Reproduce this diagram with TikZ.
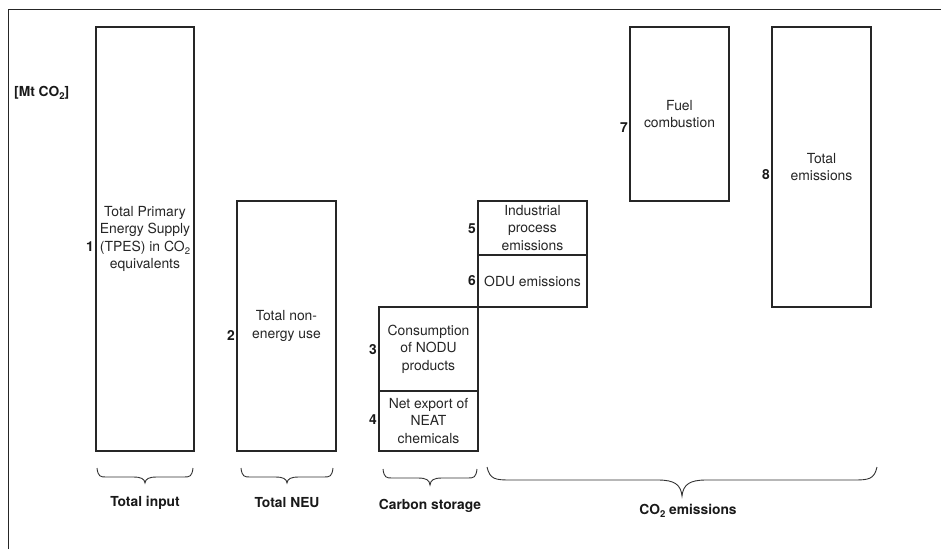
\documentclass[tikz,border=0pt]{standalone}
\usepackage{fontspec}
\setmainfont{TeX Gyre Heros}
\newcommand\subtwo{\raisebox{-0.4ex}{\fontsize{9.5}{10}\selectfont 2}}
\newcommand\curlybrace[7]{%
  \draw[braceline] (#1,#3) .. controls ({#1+0.12*#6},{#4-0.5}) and ({#1+0.35*#6},#4) .. ({#1+#6},#4)
    -- ({(#1+#2)/2-#7},#4) .. controls ({(#1+#2)/2-0.3*#7},#4) and ({(#1+#2)/2-0.05*#7},{#4+0.3*(#5-#4)}) .. ({(#1+#2)/2},#5)
    .. controls ({(#1+#2)/2+0.05*#7},{#4+0.3*(#5-#4)}) and ({(#1+#2)/2+0.3*#7},#4) .. ({(#1+#2)/2+#7},#4)
    -- ({#2-#6},#4) .. controls ({#2-0.35*#6},#4) and ({#2-0.12*#6},{#4-0.5}) .. (#2,#3);}
\begin{document}
\begin{tikzpicture}[x=1pt,y=-1pt,
  box/.style={draw=black!85, line width=1.1pt, inner sep=2pt, align=center,
    text=black!85, font=\fontsize{13.9}{17.5}\selectfont},
  num/.style={font=\bfseries\fontsize{13.8}{17.5}\selectfont, inner sep=1.5pt, anchor=east, text=black!90},
  lab/.style={font=\bfseries\fontsize{13.8}{17.5}\selectfont, inner sep=0pt, text=black!90},
  braceline/.style={draw=black!80, line width=0.9pt},
  frameline/.style={draw=black!85, line width=1pt}]
\useasboundingbox (0,0) rectangle (941,549);
\fill[white] (0,0) rectangle (941,549);
\draw[frameline] (8,549) -- (8,9) -- (941,9);

\node[lab, anchor=west] (unit) at (14,93) {[Mt CO\subtwo]};

\node[box, minimum width=98pt, minimum height=424pt] (b1) at (145,239)
  {Total Primary\\Energy Supply\\(TPES) in CO\subtwo\\equivalents};
\node[box, minimum width=99pt, minimum height=250pt] (b2) at (286.5,326)
  {Total non-\\energy use};
\node[box, minimum width=99pt, minimum height=84pt] (b3) at (428.5,349)
  {Consumption\\of NODU\\products};
\node[box, minimum width=99pt, minimum height=60pt] (b4) at (428.5,421)
  {Net export of\\NEAT\\chemicals};
\node[box, minimum width=109pt, minimum height=54pt] (b5) at (532.5,228)
  {Industrial\\process\\emissions};
\node[box, minimum width=109pt, minimum height=52pt] (b6) at (532.5,281)
  {ODU emissions};
\node[box, minimum width=99pt, minimum height=174pt] (b7) at (679.5,114)
  {Fuel\\combustion};
\node[box, minimum width=99pt, minimum height=280pt] (b8) at (821.5,167)
  {Total\\emissions};

\node[num] (n1) at (b1.west |- 0,247) {1};
\node[num] (n2) at (b2.west |- 0,335) {2};
\node[num] (n3) at (b3.west |- 0,350) {3};
\node[num] (n4) at (b4.west |- 0,420) {4};
\node[num] (n5) at (b5.west |- 0,229) {5};
\node[num] (n6) at (b6.west |- 0,281) {6};
\node[num] (n7) at (b7.west |- 0,128) {7};
\node[num] (n8) at (b8.west |- 0,175) {8};

\curlybrace{97}{193}{468}{477}{483}{9}{12}
\curlybrace{241}{333}{468}{477}{483}{9}{12}
\curlybrace{383}{477}{469}{478}{485}{9}{12}
\curlybrace{487}{877}{467}{480}{496}{24}{24}

\node[lab] (l1) at (145,503) {Total input};
\node[lab] (l2) at (287,503) {Total NEU};
\node[lab] (l3) at (430,506) {Carbon storage};
\node[lab] (l4) at (688,511) {CO\subtwo{} emissions};
\end{tikzpicture}
\end{document}
